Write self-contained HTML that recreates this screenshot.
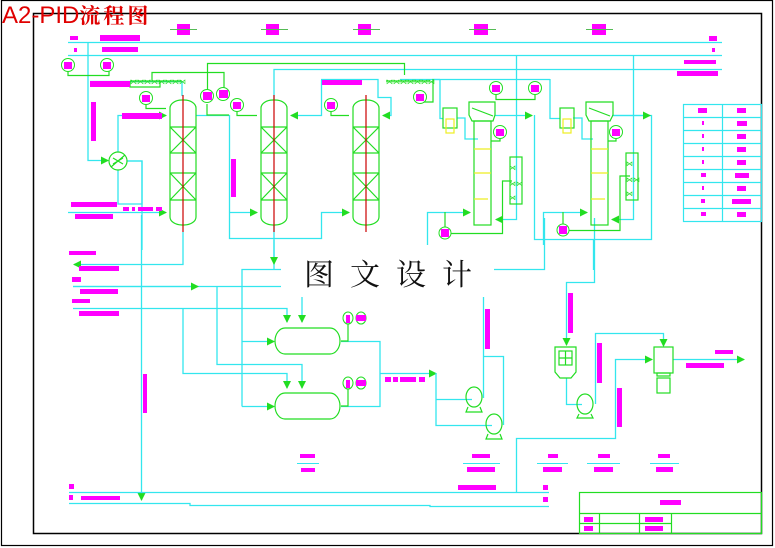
<!DOCTYPE html>
<html><head><meta charset="utf-8"><style>
html,body{margin:0;padding:0;background:#fff;}
svg{display:block;}
</style></head><body>
<svg width="775" height="548" viewBox="0 0 775 548" xmlns="http://www.w3.org/2000/svg">
<defs>
<marker id="a" markerWidth="8" markerHeight="8" refX="7" refY="4" orient="auto" markerUnits="userSpaceOnUse"><path d="M0,0 L8,4 L0,8 z" fill="#22dd22"/></marker>
</defs>
<rect x="0" y="0" width="775" height="548" fill="#fff"/>
<rect x="1.5" y="0.5" width="771" height="545" fill="none" stroke="#000" stroke-width="1.2"/>
<rect x="33.5" y="13.5" width="728" height="520" fill="none" stroke="#000" stroke-width="1.5"/>

<g fill="#ff00ff">
<rect x="177" y="24" width="13" height="11"/><rect x="266" y="24" width="13" height="11"/><rect x="358" y="24" width="13" height="11"/><rect x="474" y="24" width="14" height="11"/><rect x="592" y="24" width="14" height="11"/>
</g>
<g stroke="#55bb55" stroke-width="1">
<line x1="170" y1="29.5" x2="197" y2="29.5"/><line x1="261" y1="29.5" x2="288" y2="29.5"/><line x1="353" y1="29.5" x2="380" y2="29.5"/><line x1="469" y1="29.5" x2="496" y2="29.5"/><line x1="586" y1="29.5" x2="613" y2="29.5"/>
</g>

<g stroke="#33e6ee" stroke-width="1.3" fill="none">
<line x1="68" y1="42.5" x2="722" y2="42.5"/>
<line x1="68" y1="55.5" x2="722" y2="55.5"/>
<polyline points="88,42 88,160.5 108,160.5" marker-end="url(#a)"/>
<polyline points="274,100 274,69.5 722,69.5" />
<polyline points="118,152 118,115.5 166,115.5" marker-end="url(#a)"/>
<polyline points="127,161 142,161 142,204 118,204 118,170"/>
<polyline points="127,161 142,161 142,250"/>
<line x1="68" y1="212.5" x2="166" y2="212.5" marker-end="url(#a)"/>
<line x1="90" y1="81.5" x2="182" y2="81.5"/>
<polyline points="182,81 182,96"/>
<polyline points="196,115.5 229.5,115.5 229.5,238.5 321.5,238.5 321.5,212.5 349,212.5" marker-end="url(#a)"/>
<line x1="229" y1="212.5" x2="257" y2="212.5" marker-end="url(#a)"/>
<polyline points="321.5,80 321.5,115.5 291,115.5" marker-end="url(#a)"/>
<polyline points="321,79.5 378,79.5 378,97.5 391,97.5 391,115.5 383,115.5" marker-end="url(#a)"/>
<polyline points="183,232 183,264.5 74,264.5" marker-end="url(#a)"/>
<line x1="141.5" y1="215" x2="141.5" y2="500" marker-end="url(#a)"/>
<line x1="274" y1="225" x2="274" y2="269"/>
<polyline points="274,240 274,264" marker-end="url(#a)"/>
<polyline points="242,406.5 242,269.5 281,269.5"/>
<line x1="73" y1="286.5" x2="281" y2="286.5"/>
<line x1="73" y1="286.5" x2="198" y2="286.5" marker-end="url(#a)"/>
<polyline points="73,308.5 287,308.5 287,322" marker-end="url(#a)"/>
<polyline points="217,286 217,364.5 302,364.5 302,388" marker-end="url(#a)"/>
<polyline points="183,308 183,373.5 287,373.5 287,388" marker-end="url(#a)"/>
<line x1="302" y1="297" x2="302" y2="322" marker-end="url(#a)"/>
<line x1="242" y1="341.5" x2="274" y2="341.5" marker-end="url(#a)"/>
<line x1="242" y1="406.5" x2="274" y2="406.5" marker-end="url(#a)"/>
<polyline points="341,341.5 380,341.5 380,406.5 341,406.5"/>
<line x1="380" y1="373.5" x2="436" y2="373.5" marker-end="url(#a)"/>
<polyline points="436,373 436,425.5 492,425.5"/>
<line x1="436" y1="399.5" x2="472" y2="399.5"/>
<polyline points="483.5,297 483.5,398"/>
<polyline points="483,356.5 503.5,356.5 503.5,425"/>
<polyline points="494,269.5 544.5,269.5 544.5,218"/>
<polyline points="594.5,218 594.5,282.5 566.5,282.5 566.5,345" marker-end="url(#a)"/>
<polyline points="566.5,378 566.5,404.5 582,404.5"/>
<polyline points="595.5,404 595.5,333.5 663.5,333.5 663.5,346" marker-end="url(#a)"/>
<polyline points="516.5,492 516.5,438.5 615.5,438.5 615.5,359.5 652,359.5" marker-end="url(#a)"/>
<line x1="673" y1="359.5" x2="744" y2="359.5" marker-end="url(#a)"/>
<line x1="69" y1="492.5" x2="549" y2="492.5"/>
<polyline points="69,503.5 190,503.5 190,505.5 430,505.5 430,506.5 549,506.5"/>
<polyline points="516.5,55 516.5,219.5 496,219.5" marker-end="url(#a)"/>
<polyline points="633.5,55 633.5,219.5 612,219.5" marker-end="url(#a)"/>
<polyline points="495,115.5 532,115.5" marker-end="url(#a)"/>
<polyline points="534.5,115 534.5,239.5 651.5,239.5 651.5,115.5 612,115.5"/>
<line x1="612" y1="115.5" x2="650" y2="115.5" marker-end="url(#a)"/>
<polyline points="427.5,245 427.5,212.5 470,212.5" marker-end="url(#a)"/>
<polyline points="543.5,245 543.5,212.5 587,212.5" marker-end="url(#a)"/>
<polyline points="593.5,240 593.5,270"/>
<polyline points="440,79 440,118.5 443,118.5"/>
<polyline points="457,118 465,118 465,139 478,139"/>
<polyline points="550,79 550,118.5 560,118.5"/>
<polyline points="573,118 582,118 582,139 593,139"/>
<polyline points="400,79.5 440,79.5"/>
<polyline points="432,79.5 550,79.5"/>
</g>

<g stroke="#22dd22" stroke-width="1.2" fill="none">
<polyline points="68,70 68,75.5 109,75.5 109,70"/>
<polyline points="207.5,90 207.5,63.5 404.5,63.5 404.5,75"/>
<polyline points="152,80 152,72.5 224,72.5 224,90"/>
<polyline points="130,81 182,81"/>
<polyline points="130,81 130,87 160,87 160,81"/>
<polyline points="146,103 146,108.5 166,108.5"/>
<polyline points="207,104 207,115 229,115"/>
<polyline points="237,110 237,115.5 257,115.5"/>
<polyline points="331,110 331,115.5 349,115.5"/>
<polyline points="386,81 430,81"/>
<polyline points="420,102 433,102 433,79"/>
<polyline points="496,93 496,99.5 535,99.5 535,93"/>
<polyline points="500,138 500,141 491,141"/>
<polyline points="616,138 616,141 608,141"/>
<polyline points="445,233.5 502.5,233.5 502.5,181 512,181"/>
<polyline points="563,230.5 620,230.5 620,176 630,176"/>
<rect x="510" y="157" width="12" height="47"/>
<rect x="626" y="153" width="12" height="47"/>
<polyline points="348,323 348,341 341,341"/>
<polyline points="348,388 348,406 341,406"/>
<line x1="445" y1="212" x2="445" y2="228"/>
<line x1="563" y1="212" x2="563" y2="225"/>
</g>
<g fill="#22dd22" font-family="Liberation Sans" font-size="7">
<text x="130" y="84">⋈⋈⋈⋈⋈⋈⋈⋈</text>
<text x="386" y="84">⋈⋈⋈⋈⋈⋈⋈</text>
<text x="509" y="170">⋈</text><text x="509" y="186">⋈⋈</text><text x="509" y="200">⋈</text>
<text x="626" y="166">⋈</text><text x="626" y="182">⋈⋈</text><text x="626" y="196">⋈</text>
</g>

<g stroke="#22dd22" stroke-width="1.2" fill="none">
<rect x="170" y="100" width="26" height="125" rx="12" ry="8"/>
<rect x="261" y="100" width="26" height="125" rx="12" ry="8"/>
<rect x="353" y="100" width="26" height="125" rx="12" ry="8"/>
<path d="M170,127H196M170,153H196M170,173H196M170,200H196M170,127L196,153M196,127L170,153M170,173L196,200M196,173L170,200"/>
<path d="M261,127H287M261,153H287M261,173H287M261,200H287M261,127L287,153M287,127L261,153M261,173L287,200M287,173L261,200"/>
<path d="M353,127H379M353,153H379M353,173H379M353,200H379M353,127L379,153M379,127L353,153M353,173L379,200M379,173L353,200"/>
<circle cx="118" cy="161" r="9"/>
<path d="M111,167L125,155M113,158L118,161L113,164M123,158L118,161L123,164"/>
<rect x="474" y="121" width="17" height="104"/>
<path d="M469,102H495V115L493,121H472L469,115Z"/>
<line x1="472" y1="108" x2="493" y2="116"/>
<rect x="591" y="121" width="17" height="104"/>
<path d="M586,102H613V115L610,121H589L586,115Z"/>
<line x1="589" y1="108" x2="610" y2="116"/>
<rect x="443" y="108" width="14" height="20"/>
<rect x="560" y="108" width="14" height="20"/>
<rect x="275" y="328" width="65" height="26" rx="10" ry="13"/>
<rect x="275" y="393" width="65" height="26" rx="10" ry="13"/>
<ellipse cx="474" cy="397" rx="8" ry="10"/><path d="M468,407L466,412H482L480,407"/>
<ellipse cx="494" cy="424" rx="8" ry="10"/><path d="M488,434L486,439H502L500,434"/>
<ellipse cx="585" cy="404" rx="8" ry="10"/><path d="M579,414L577,418H593L591,414"/>
<path d="M555,347H576V372L571,378H560L555,372Z"/>
<rect x="559" y="351" width="13" height="14"/><path d="M565.5,351V365M559,358H572"/>
<rect x="654" y="347" width="19" height="26"/><rect x="657" y="373" width="13" height="3"/><rect x="657" y="378" width="13" height="15"/>
<rect x="579.5" y="492.5" width="182" height="41"/>
<path d="M580,513.5H762M580,523.5H671M599.5,513V534M639.5,513V534M671.5,513V534"/>
</g>
<g stroke="#eeee22" stroke-width="1.2" fill="none">
<rect x="446" y="119" width="8" height="14"/><rect x="563" y="119" width="8" height="14"/>
<path d="M474,149H491M474,173H491M474,199H488M591,149H608M591,173H608M591,199H605"/>
</g>
<g stroke="#cc0000" stroke-width="1.2">
<line x1="183" y1="95" x2="183" y2="232"/><line x1="274" y1="95" x2="274" y2="232"/><line x1="366" y1="95" x2="366" y2="232"/>
</g>

<g stroke="#22dd22" stroke-width="1" fill="#fff">
<circle cx="68" cy="65" r="6.5"/><circle cx="107" cy="65" r="6.5"/><circle cx="146" cy="98" r="6.5"/>
<circle cx="207" cy="96" r="6.5"/><circle cx="223" cy="94" r="6.5"/><circle cx="237" cy="105" r="6.5"/>
<circle cx="331" cy="105" r="6.5"/><circle cx="420" cy="97" r="6.5"/><circle cx="496" cy="88" r="6.5"/>
<circle cx="535" cy="88" r="6.5"/><circle cx="500" cy="132" r="6.5"/><circle cx="616" cy="132" r="6.5"/>
<circle cx="445" cy="233" r="6"/><circle cx="563" cy="230" r="6"/>
<ellipse cx="348" cy="318" rx="5" ry="6"/><ellipse cx="361" cy="318" rx="5" ry="6"/>
<ellipse cx="348" cy="383" rx="5" ry="6"/><ellipse cx="361" cy="383" rx="5" ry="6"/>
</g>
<g fill="#ff00ff">
<rect x="64" y="62" width="8" height="7"/><rect x="103" y="62" width="8" height="7"/><rect x="142" y="95" width="8" height="7"/>
<rect x="203" y="92" width="9" height="8"/><rect x="219" y="90" width="9" height="8"/><rect x="233" y="102" width="8" height="7"/>
<rect x="327" y="102" width="8" height="7"/><rect x="416" y="94" width="8" height="7"/><rect x="492" y="85" width="8" height="7"/>
<rect x="531" y="85" width="8" height="7"/><rect x="496" y="129" width="8" height="7"/><rect x="612" y="129" width="8" height="7"/>
<rect x="441" y="229" width="8" height="8"/><rect x="559" y="226" width="8" height="8"/>
<rect x="346" y="315" width="4" height="8"/><rect x="356" y="315" width="10" height="6"/>
<rect x="346" y="380" width="4" height="8"/><rect x="356" y="380" width="10" height="6"/>
</g>

<g fill="#ff00ff">
<rect x="70" y="36" width="8" height="4"/><rect x="100" y="35" width="40" height="6"/>
<rect x="74" y="48" width="3" height="4"/><rect x="102" y="47" width="36" height="5"/>
<rect x="90" y="81" width="40" height="6"/><rect x="91" y="102" width="5" height="39"/>
<rect x="122" y="113" width="40" height="6"/>
<rect x="71" y="202" width="46" height="5"/><rect x="75" y="214" width="38" height="5"/>
<rect x="123" y="207" width="6" height="4"/><rect x="132" y="207" width="3" height="4"/><rect x="138" y="207" width="15" height="4"/><rect x="156" y="207" width="6" height="4"/>
<rect x="231" y="159" width="5" height="38"/><rect x="322" y="80" width="40" height="5"/>
<rect x="709" y="36" width="8" height="5"/><rect x="712" y="48" width="3" height="4"/>
<rect x="684" y="60" width="32" height="4"/><rect x="677" y="71" width="41" height="5"/>
<rect x="69" y="251" width="27" height="4"/><rect x="79" y="266" width="40" height="5"/>
<rect x="72" y="277" width="9" height="5"/><rect x="80" y="289" width="38" height="5"/>
<rect x="72" y="299" width="18" height="4"/><rect x="79" y="311" width="40" height="5"/>
<rect x="143" y="374" width="4" height="39"/>
<rect x="485" y="309" width="5" height="40"/>
<rect x="568" y="293" width="5" height="40"/><rect x="597" y="343" width="5" height="40"/><rect x="617" y="388" width="5" height="39"/>
<rect x="715" y="350" width="18" height="4"/><rect x="686" y="363" width="38" height="5"/>
<rect x="385" y="377" width="6" height="5"/><rect x="393" y="377" width="5" height="5"/><rect x="400" y="377" width="16" height="5"/><rect x="419" y="377" width="6" height="5"/>
<rect x="458" y="485" width="38" height="5"/>
<rect x="69" y="484" width="5" height="5"/><rect x="69" y="495" width="4" height="5"/><rect x="81" y="496" width="39" height="4"/>
<rect x="543" y="485" width="5" height="5"/><rect x="543" y="497" width="5" height="5"/>
<rect x="660" y="500" width="21" height="5"/>
<rect x="584" y="517" width="9" height="5"/><rect x="584" y="526" width="9" height="5"/>
<rect x="645" y="517" width="18" height="5"/><rect x="645" y="526" width="18" height="5"/>
<rect x="300" y="454" width="15" height="4"/><rect x="301" y="468" width="14" height="4"/>
<rect x="472" y="454" width="18" height="4"/><rect x="467" y="467" width="28" height="5"/>
<rect x="548" y="454" width="10" height="4"/><rect x="543" y="467" width="19" height="5"/>
<rect x="598" y="454" width="12" height="4"/><rect x="594" y="467" width="19" height="5"/>
<rect x="658" y="454" width="12" height="4"/><rect x="656" y="467" width="17" height="5"/>
</g>
<g stroke="#33e6ee" stroke-width="1">
<line x1="297" y1="463.5" x2="319" y2="463.5"/><line x1="463" y1="463.5" x2="500" y2="463.5"/>
<line x1="537" y1="463.5" x2="568" y2="463.5"/><line x1="587" y1="463.5" x2="620" y2="463.5"/><line x1="650" y1="463.5" x2="679" y2="463.5"/>
</g>

<g stroke="#33e6ee" stroke-width="1.2" fill="none">
<rect x="683.5" y="104.5" width="78" height="117"/>
<path d="M722.5,104V221M683,117.5H762M683,130.5H762M683,143.5H762M683,156.5H762M683,169.5H762M683,182.5H762M683,195.5H762M683,208.5H762"/>
</g>
<g fill="#ff00ff">
<rect x="698" y="108" width="9" height="5"/><rect x="737" y="108" width="9" height="5"/>
<rect x="702" y="121" width="2" height="4"/><rect x="737" y="121" width="10" height="5"/>
<rect x="702" y="134" width="2" height="4"/><rect x="737" y="134" width="9" height="5"/>
<rect x="702" y="147" width="2" height="4"/><rect x="737" y="147" width="9" height="5"/>
<rect x="702" y="160" width="2" height="4"/><rect x="737" y="160" width="9" height="5"/>
<rect x="701" y="173" width="5" height="4"/><rect x="735" y="173" width="14" height="5"/>
<rect x="702" y="186" width="2" height="4"/><rect x="737" y="186" width="9" height="5"/>
<rect x="701" y="199" width="4" height="4"/><rect x="732" y="199" width="19" height="5"/>
<rect x="701" y="212" width="5" height="4"/><rect x="737" y="212" width="9" height="5"/>
</g>

<rect x="284" y="252" width="208" height="44" fill="#fff"/>
<text x="304" y="285" font-family="'Noto Serif CJK SC','Liberation Serif',serif" font-size="30" letter-spacing="16" fill="#111">图文设计</text>

<text x="2" y="23" font-family="'Liberation Sans','Noto Sans CJK SC',sans-serif" font-size="24" fill="#e00000">A2-PID<tspan font-family="'Noto Serif CJK SC',serif" font-size="21" font-weight="bold" letter-spacing="3">流程图</tspan></text>
</svg>
</body></html>
